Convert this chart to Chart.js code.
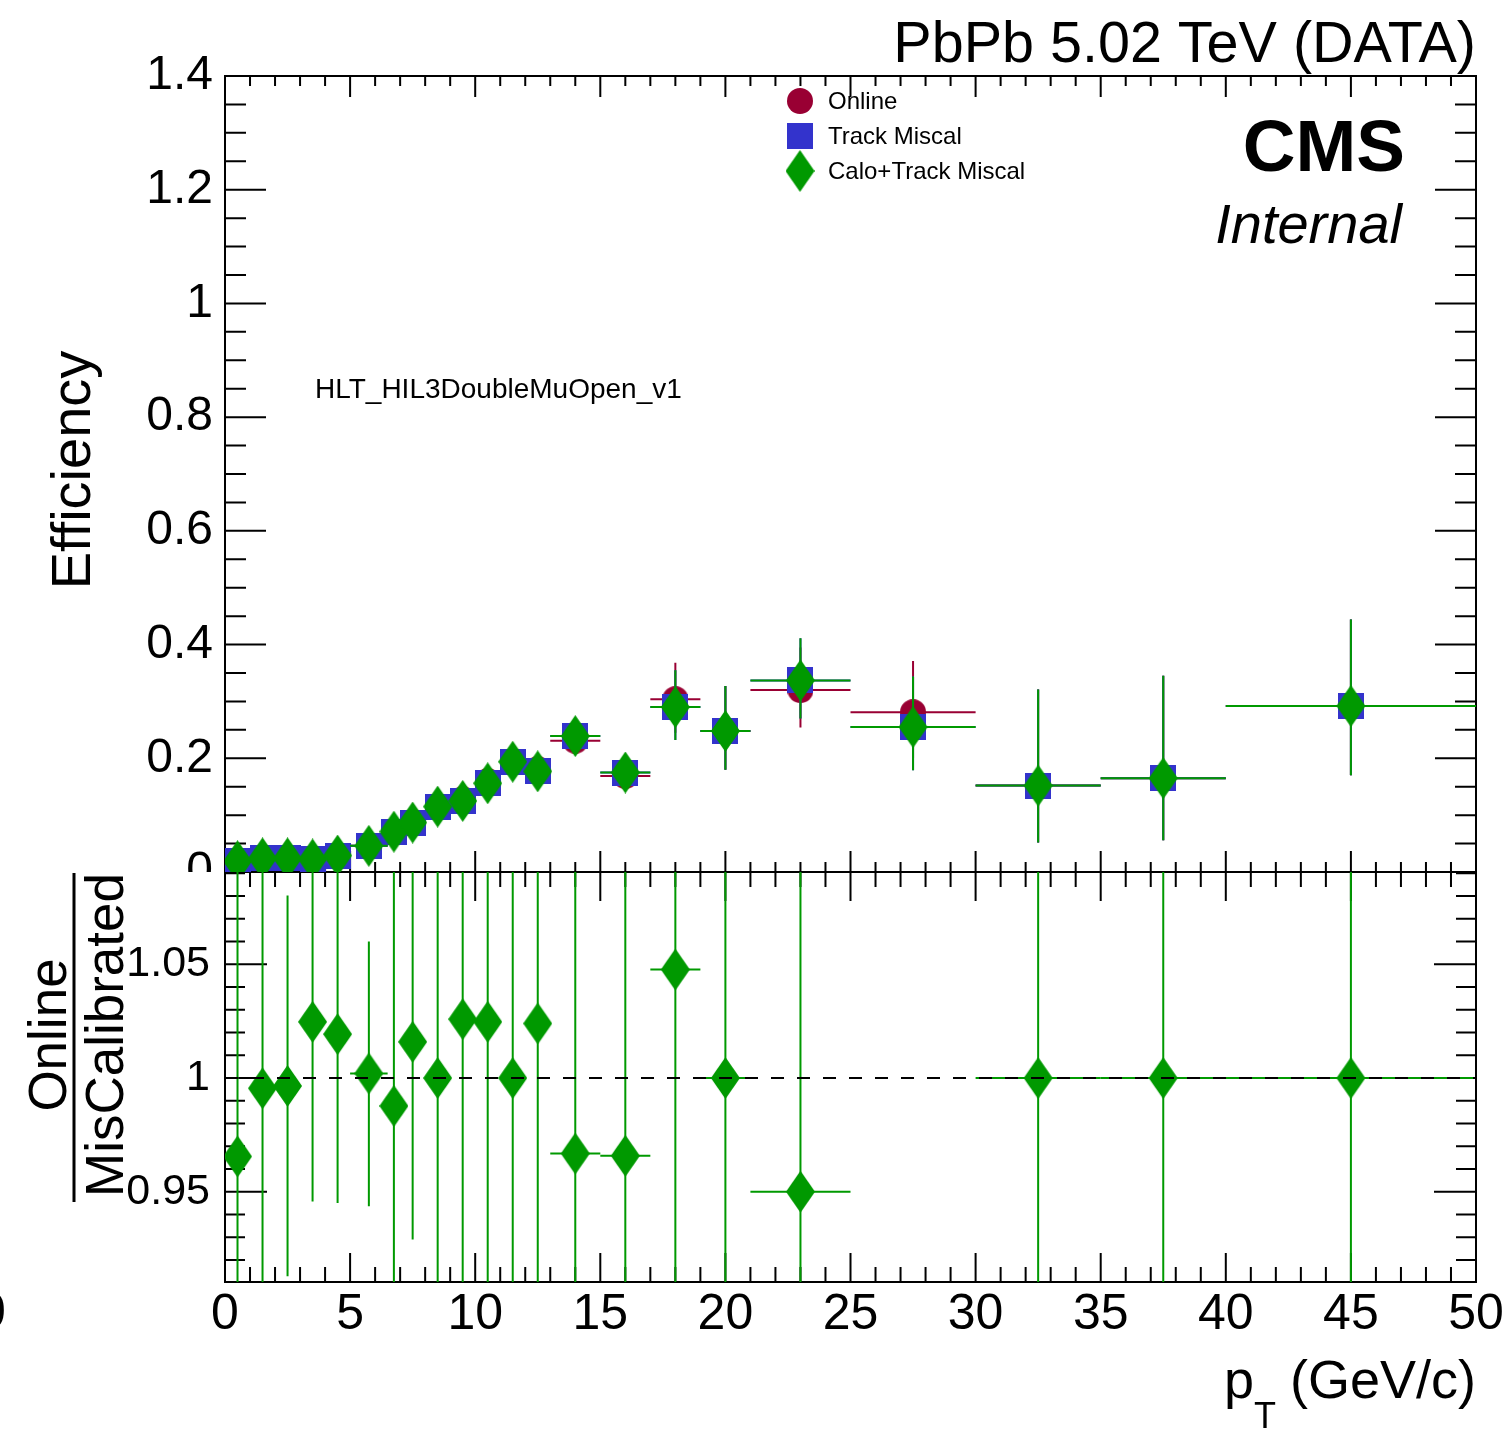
<!DOCTYPE html>
<html>
<head>
<meta charset="utf-8">
<script src="https://cdn.jsdelivr.net/npm/chart.js@4.4.1/dist/chart.umd.min.js"></script>
<style>
  body { margin: 0; background: #fff; }
  #wrap { position: relative; width: 1507px; height: 1435px; }
</style>
</head>
<body>
<div id="wrap"><canvas id="effCanvas" width="1507" height="1435"></canvas></div>
<script>
// pT bin edges (GeV/c)
var binEdges = [0, 1, 2, 3, 4, 5, 6.5, 7, 8, 9, 10, 11, 12, 13, 15, 17, 19, 21, 25, 30, 35, 40, 50];

// efficiency, Online
var effOnline   = [0.018, 0.024, 0.024, 0.023, 0.030, 0.046, 0.070, 0.088, 0.115, 0.128, 0.160, 0.194, 0.181, 0.231, 0.169, 0.304, 0.248, 0.320, 0.281, 0.152, 0.165, 0.292];
var effOnlineLo = [0.011, 0.016, 0.016, 0.015, 0.021, 0.034, 0.054, 0.072, 0.097, 0.109, 0.138, 0.170, 0.157, 0.215, 0.154, 0.245, 0.180, 0.254, 0.200, 0.052, 0.056, 0.170];
var effOnlineHi = [0.026, 0.033, 0.033, 0.031, 0.040, 0.059, 0.087, 0.105, 0.134, 0.148, 0.183, 0.219, 0.206, 0.248, 0.185, 0.368, 0.327, 0.395, 0.371, 0.321, 0.345, 0.444];

// efficiency, Track Miscal
var effTrack   = [0.019, 0.024, 0.024, 0.022, 0.029, 0.046, 0.071, 0.087, 0.115, 0.125, 0.156, 0.194, 0.177, 0.239, 0.175, 0.290, 0.248, 0.337, 0.255, 0.152, 0.165, 0.292];
var effTrackLo = [0.012, 0.016, 0.016, 0.015, 0.020, 0.034, 0.055, 0.071, 0.097, 0.106, 0.134, 0.170, 0.153, 0.222, 0.160, 0.232, 0.180, 0.270, 0.179, 0.052, 0.056, 0.170];
var effTrackHi = [0.027, 0.033, 0.033, 0.030, 0.039, 0.059, 0.088, 0.104, 0.134, 0.145, 0.179, 0.219, 0.202, 0.256, 0.192, 0.355, 0.327, 0.411, 0.344, 0.321, 0.345, 0.444];

// efficiency, Calo+Track Miscal
var effCalo   = [0.019, 0.024, 0.024, 0.022, 0.029, 0.046, 0.071, 0.087, 0.115, 0.125, 0.156, 0.194, 0.177, 0.239, 0.175, 0.290, 0.248, 0.337, 0.255, 0.152, 0.165, 0.292];
var effCaloLo = [0.012, 0.016, 0.016, 0.015, 0.020, 0.034, 0.055, 0.071, 0.097, 0.106, 0.134, 0.170, 0.153, 0.222, 0.160, 0.232, 0.180, 0.270, 0.179, 0.052, 0.056, 0.170];
var effCaloHi = [0.027, 0.033, 0.033, 0.030, 0.039, 0.059, 0.088, 0.104, 0.134, 0.145, 0.179, 0.219, 0.202, 0.256, 0.192, 0.355, 0.327, 0.411, 0.344, 0.321, 0.345, 0.444];

// ratio Online / MisCalibrated
var ratio   = [0.9655, 0.9955, 0.9965, 1.0247, 1.0193, 1.0020, 0.9877, 1.0159, 1.0000, 1.0259, 1.0247, 1.0000, 1.0240, 0.9668, 0.9658, 1.0477, 1.0000, 0.9500, 1.1020, 1.0000, 1.0000, 1.0000];
var ratioLo = [0.800, 0.850, 0.9128, 0.9457, 0.9450, 0.9436, 0.860, 0.929, 0.860, 0.880, 0.890, 0.870, 0.890, 0.840, 0.830, 0.880, 0.850, 0.800, 0.900, 0.600, 0.600, 0.700];
var ratioHi = [1.200, 1.150, 1.0803, 1.110, 1.100, 1.060, 1.120, 1.100, 1.140, 1.170, 1.160, 1.130, 1.160, 1.100, 1.110, 1.220, 1.170, 1.120, 1.350, 1.600, 1.600, 1.400];

var unityX = [0, 50];
var unityY = [1, 1];

var yTopTicks = [0, 0.2, 0.4, 0.6, 0.8, 1, 1.2, 1.4];
var yRatioTicks = [0.95, 1, 1.05];

var FONT = "'Liberation Sans', Arial, Helvetica, sans-serif";
var RED = '#990033', BLUE = '#3333cc', GREEN = '#009900';

var centers = [], halfW = [];
for (var i = 0; i < binEdges.length - 1; i++) {
	centers.push((binEdges[i] + binEdges[i + 1]) / 2);
	halfW.push((binEdges[i + 1] - binEdges[i]) / 2);
}

function makeMarker(shape, color, w, h) {
	var c = document.createElement('canvas');
	c.width = w; c.height = h;
	var g = c.getContext('2d');
	g.fillStyle = color;
	g.beginPath();
	if (shape === 'circle') {
		g.arc(w / 2, h / 2, w / 2, 0, Math.PI * 2);
	} else if (shape === 'square') {
		g.rect(0, 0, w, h);
	} else {
		g.moveTo(w / 2, 0); g.lineTo(w, h / 2); g.lineTo(w / 2, h); g.lineTo(0, h / 2);
		g.closePath();
	}
	g.fill();
	return c;
}

var mkCircle = makeMarker('circle', RED, 26, 26);
var mkSquare = makeMarker('square', BLUE, 26, 26);
var mkDiamond = makeMarker('diamond', GREEN, 29, 42);

function points(vals) {
	return vals.map(function(v, i) { return {x: centers[i], y: v}; });
}

function series(label, vals, lo, hi, color, marker, axis, order) {
	return {
		label: label,
		data: points(vals),
		yAxisID: axis,
		pointStyle: marker,
		pointRadius: 14,
		showLine: false,
		order: order,
		clip: 0,
		errLo: lo,
		errHi: hi,
		errColor: color
	};
}

// error bars drawn under each series' markers, clipped to its own pad
var errorBars = {
	id: 'errorBars',
	beforeDatasetDraw: function(chart, args) {
		var ds = chart.data.datasets[args.index];
		if (!ds.errLo) return;
		var xs = chart.scales[args.meta.xAxisID], ys = chart.scales[args.meta.yAxisID];
		var ctx = chart.ctx;
		ctx.save();
		ctx.beginPath();
		ctx.rect(xs.left, ys.top, xs.right - xs.left, ys.bottom - ys.top);
		ctx.clip();
		ctx.strokeStyle = ds.errColor;
		ctx.lineWidth = 2;
		ds.data.forEach(function(p, i) {
			if (p.y < ys.min || p.y > ys.max) return;
			var px = xs.getPixelForValue(p.x), py = ys.getPixelForValue(p.y);
			ctx.beginPath();
			ctx.moveTo(px, ys.getPixelForValue(ds.errLo[i]));
			ctx.lineTo(px, ys.getPixelForValue(ds.errHi[i]));
			ctx.moveTo(xs.getPixelForValue(p.x - halfW[i]), py);
			ctx.lineTo(xs.getPixelForValue(p.x + halfW[i]), py);
			ctx.stroke();
		});
		ctx.restore();
	}
};

function ticksFor(from, to, step) {
	var out = [];
	for (var v = from; v <= to + 1e-9; v += step) out.push(Math.round(v * 1e6) / 1e6);
	return out;
}

// ROOT style frames with inward ticks on all four sides, drawn under the graphs
var frames = {
	id: 'frames',
	beforeDatasetsDraw: function(chart) {
		var ctx = chart.ctx;
		var xs = chart.scales.x, yt = chart.scales.y, yr = chart.scales.yR;
		ctx.save();
		ctx.strokeStyle = '#000';

		function pad(ys, xMaj, xMin, yMaj, yMin, yMajList, yMinList) {
			ctx.lineWidth = 2;
			ctx.strokeRect(xs.left, ys.top, xs.right - xs.left, ys.bottom - ys.top);
			ctx.beginPath();
			ticksFor(0, 50, 1).forEach(function(v) {
				var px = xs.getPixelForValue(v);
				var len = (v % 5 === 0) ? xMaj : xMin;
				ctx.moveTo(px, ys.bottom); ctx.lineTo(px, ys.bottom - len);
				ctx.moveTo(px, ys.top); ctx.lineTo(px, ys.top + len);
			});
			yMinList.forEach(function(v) {
				if (v < ys.min || v > ys.max) return;
				var py = ys.getPixelForValue(v);
				var len = yMajList.some(function(m) { return Math.abs(m - v) < 1e-6; }) ? yMaj : yMin;
				ctx.moveTo(xs.left, py); ctx.lineTo(xs.left + len, py);
				ctx.moveTo(xs.right, py); ctx.lineTo(xs.right - len, py);
			});
			ctx.stroke();
		}
		pad(yt, 21, 10, 41, 21, yTopTicks, ticksFor(0, 1.4, 0.05));
		pad(yr, 29, 15, 42, 20, yRatioTicks, ticksFor(0.91, 1.09, 0.01));
		ctx.restore();
	}
};

// texts: header, legend, axis titles
var decorations = {
	id: 'decorations',
	afterDraw: function(chart) {
		var ctx = chart.ctx;
		var xs = chart.scales.x, yt = chart.scales.y;
		ctx.save();
		ctx.strokeStyle = '#000';
		ctx.fillStyle = '#000';

		// top pad "0" label, cut by the lower pad
		ctx.save();
		ctx.beginPath();
		ctx.rect(0, 0, xs.left, yt.bottom);
		ctx.clip();
		ctx.font = '48px ' + FONT;
		ctx.textAlign = 'right';
		ctx.textBaseline = 'middle';
		ctx.fillText('0', xs.left - 12, yt.bottom);
		ctx.restore();
		// leftover label at the canvas edge
		ctx.font = '50px ' + FONT;
		ctx.textAlign = 'center';
		ctx.textBaseline = 'middle';
		ctx.fillText('0', -8, xs.top + 32);

		// header
		ctx.textBaseline = 'alphabetic';
		ctx.textAlign = 'right';
		ctx.font = '57.5px ' + FONT;
		ctx.fillText('PbPb 5.02 TeV (DATA)', 1476, 62);
		ctx.font = 'bold 73px ' + FONT;
		ctx.fillText('CMS', 1405, 171);
		ctx.font = 'italic 56px ' + FONT;
		ctx.fillText('Internal', 1402, 243);

		ctx.textAlign = 'left';
		ctx.font = '28px ' + FONT;
		ctx.fillText('HLT_HIL3DoubleMuOpen_v1', 315, 398);

		// legend
		var leg = [[mkCircle, 'Online', 101], [mkSquare, 'Track Miscal', 136], [mkDiamond, 'Calo+Track Miscal', 171]];
		ctx.font = '24px ' + FONT;
		ctx.textBaseline = 'middle';
		leg.forEach(function(r) {
			ctx.drawImage(r[0], 800 - r[0].width / 2, r[2] - r[0].height / 2);
			ctx.fillText(r[1], 828, r[2] + 1);
		});

		// axis titles
		ctx.textBaseline = 'alphabetic';
		ctx.save();
		ctx.translate(90, 470);
		ctx.rotate(-Math.PI / 2);
		ctx.textAlign = 'center';
		ctx.font = '56px ' + FONT;
		ctx.fillText('Efficiency', 0, 0);
		ctx.restore();

		ctx.save();
		ctx.translate(0, 1035);
		ctx.rotate(-Math.PI / 2);
		ctx.textAlign = 'center';
		ctx.font = '53px ' + FONT;
		ctx.fillText('Online', 0, 66);
		ctx.fillText('MisCalibrated', 0, 123);
		ctx.restore();
		ctx.lineWidth = 3;
		ctx.beginPath();
		ctx.moveTo(74, 873); ctx.lineTo(74, 1202);
		ctx.stroke();

		ctx.textAlign = 'right';
		ctx.font = '54px ' + FONT;
		ctx.fillText('(GeV/c)', 1476, 1398);
		ctx.textAlign = 'left';
		ctx.fillText('p', 1224, 1398);
		ctx.font = '36px ' + FONT;
		ctx.fillText('T', 1254, 1428);
		ctx.restore();
	}
};

var ctx1 = document.getElementById('effCanvas');

var datasets = [
	series('Online', effOnline, effOnlineLo, effOnlineHi, RED, mkCircle, 'y', 3),
	series('Track Miscal', effTrack, effTrackLo, effTrackHi, BLUE, mkSquare, 'y', 2),
	series('Calo+Track Miscal', effCalo, effCaloLo, effCaloHi, GREEN, mkDiamond, 'y', 1),
	series('Online/MisCalibrated', ratio, ratioLo, ratioHi, GREEN, mkDiamond, 'yR', 1),
	{
		label: 'unity',
		type: 'line',
		data: unityX.map(function(x, i) { return {x: x, y: unityY[i]}; }),
		yAxisID: 'yR',
		borderColor: '#000',
		borderWidth: 2,
		borderDash: [13, 13],
		pointRadius: 0,
		fill: false,
		order: -1,
		clip: 0
	}
];

var chart1 = new Chart(ctx1, {
	type: 'scatter',
	data: {datasets: datasets},
	options: {
		responsive: false,
		animation: false,
		events: [],
		layout: {padding: {top: 76, right: 31, left: 0, bottom: 0}},
		plugins: {legend: {display: false}, tooltip: {enabled: false}, title: {display: false}},
		scales: {
			x: {
				type: 'linear', position: 'bottom', min: 0, max: 50,
				grid: {display: false, drawTicks: false}, border: {display: false},
				ticks: {stepSize: 5, font: {family: FONT, size: 50}, color: '#000', padding: 3, maxRotation: 0, autoSkip: false},
				afterFit: function(s) { s.height = 153; }
			},
			y: {
				type: 'linear', position: 'left', min: 0, max: 1.4,
				stack: 'pads', stackWeight: 796, weight: 2,
				grid: {display: false, drawTicks: false}, border: {display: false},
				afterBuildTicks: function(s) { s.ticks = yTopTicks.map(function(v) { return {value: v}; }); },
				ticks: {font: {family: FONT, size: 48}, color: '#000', padding: 12,
					callback: function(v) { return v === 0 ? '' : String(Math.round(v * 10) / 10); }},
				afterFit: function(s) { s.width = 225; }
			},
			yR: {
				type: 'linear', position: 'left', min: 0.9103, max: 1.0906,
				stack: 'pads', stackWeight: 410, weight: 1,
				grid: {display: false, drawTicks: false}, border: {display: false},
				afterBuildTicks: function(s) { s.ticks = yRatioTicks.map(function(v) { return {value: v}; }); },
				ticks: {font: {family: FONT, size: 43}, color: '#000', padding: 15,
					callback: function(v) { return String(Math.round(v * 100) / 100); }},
				afterFit: function(s) { s.width = 225; }
			}
		}
	},
	plugins: [frames, errorBars, decorations]
});
</script>
</body>
</html>
